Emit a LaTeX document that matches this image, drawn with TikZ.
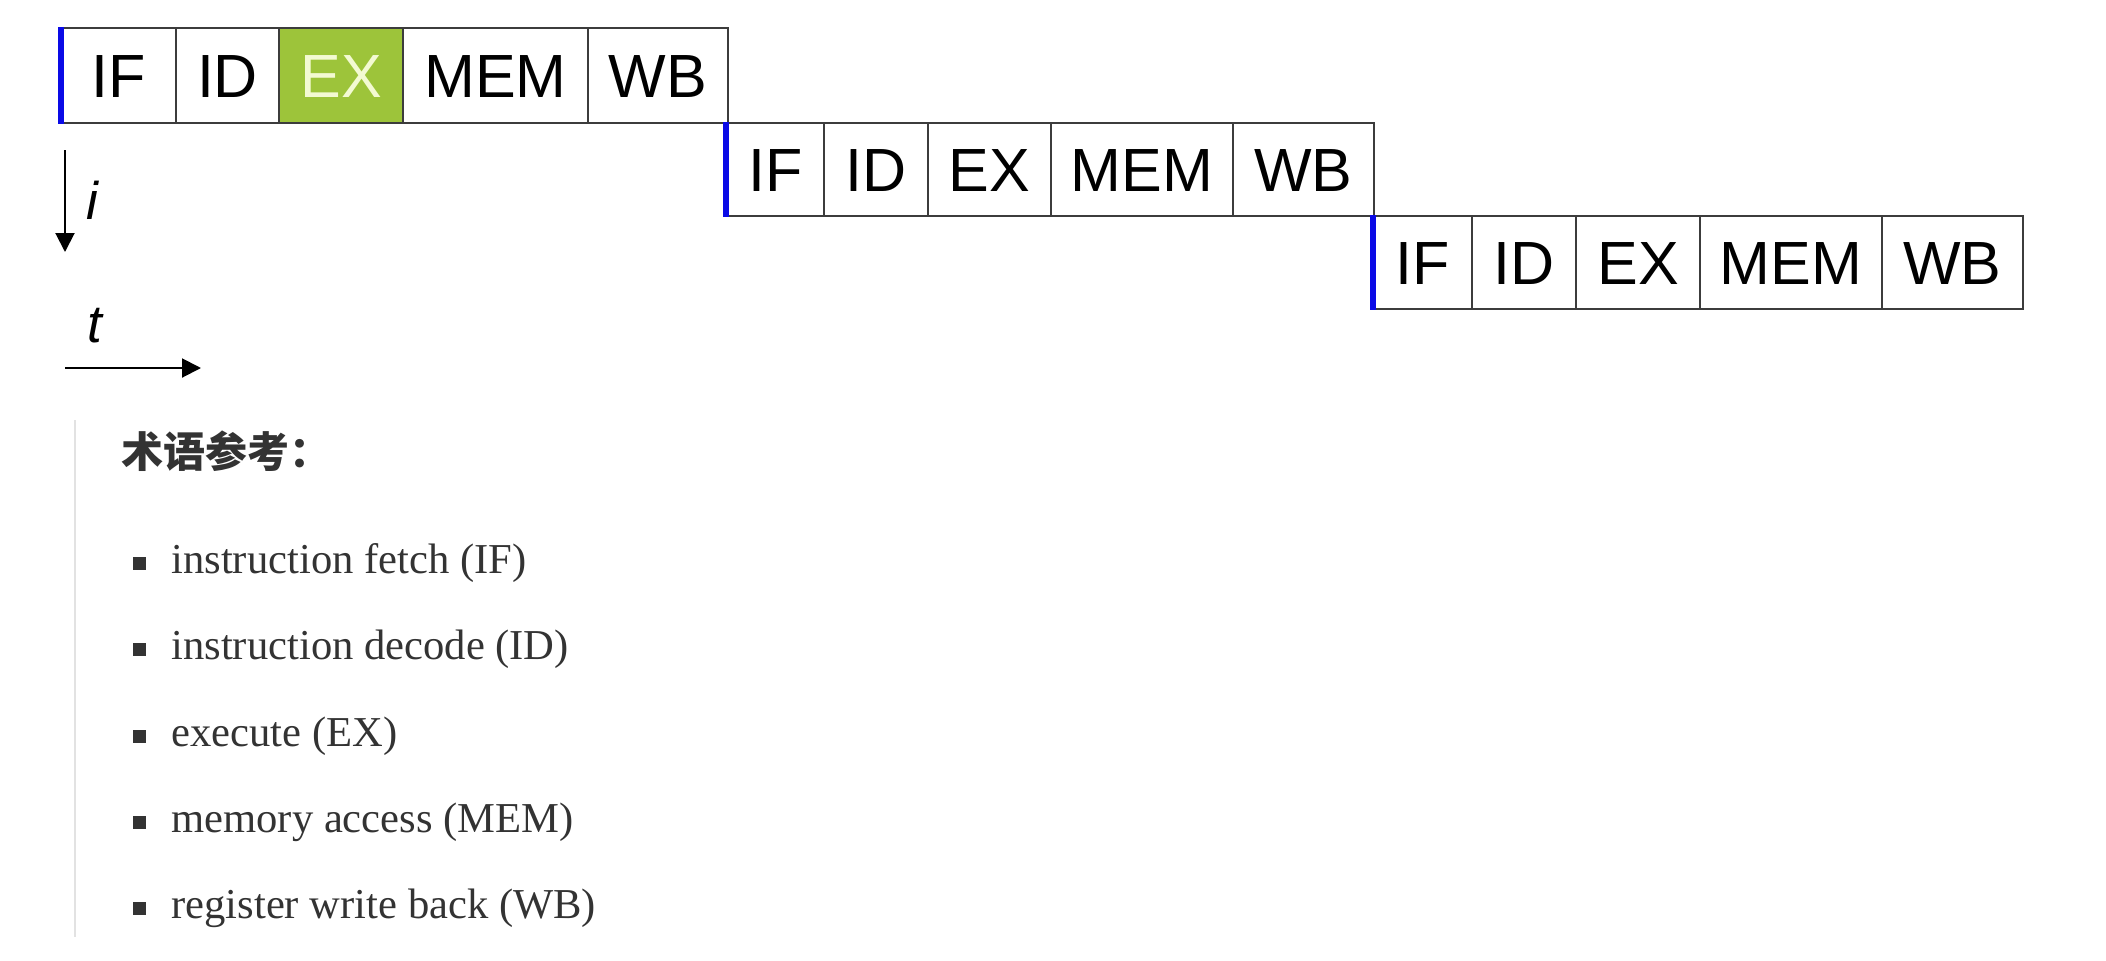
\documentclass[tikz,border=0pt]{standalone}
\usepackage{fontspec}
\setmainfont{Liberation Serif}
\newfontfamily\labfont{Liberation Sans}
\newfontfamily\cjkfont{Noto Sans CJK SC}
\usetikzlibrary{arrows.meta}
\definecolor{linegray}{HTML}{3C3C3C}
\definecolor{exgreen}{RGB}{157,196,58}
\definecolor{extext}{HTML}{F3FAD2}
\definecolor{edgeblue}{RGB}{10,10,230}
\definecolor{txt}{HTML}{333333}
\definecolor{rulegray}{HTML}{E2E2E2}
\begin{document}
\begin{tikzpicture}[x=0.5pt,y=-0.5pt,
  cell/.style={draw=linegray, line width=1pt, rectangle, inner sep=0pt,
    font=\labfont\fontsize{30.5pt}{36pt}\selectfont, text height=21.8pt, text depth=0pt},
  rowa/.style={minimum height=47.5pt},
  rowb/.style={minimum height=46.5pt},
  hot/.style={fill=exgreen, text=extext},
  blueedge/.style={draw=edgeblue, line width=3pt},
  axis/.style={line width=1pt, -{Triangle[width=9.5pt,length=9.5pt]}},
  axlab/.style={anchor=base west, inner sep=0pt, font=\labfont\itshape\fontsize{26.5pt}{30pt}\selectfont},
  item/.style={anchor=base west, inner sep=0pt, text=txt, font=\fontsize{21.3pt}{25pt}\selectfont},
  bul/.style={fill=txt, minimum size=6.5pt, inner sep=0pt},
]
\fill[white] (0,0) rectangle (2106,960);
\useasboundingbox (0,0) rectangle (2106,960);

% row 1
\node[cell,rowa,minimum width=57pt]   (a1) at (119,75.5)   {IF};
\node[cell,rowa,minimum width=51.5pt] (a2) at (227.5,75.5) {ID};
\node[cell,rowa,hot,minimum width=62pt] (a3) at (341,75.5) {EX};
\node[cell,rowa,minimum width=92.5pt] (a4) at (495.5,75.5) {MEM};
\node[cell,rowa,minimum width=70pt]   (a5) at (658,75.5)   {WB};
% row 2
\node[cell,rowb,minimum width=48.5pt] (b1) at (775.5,169.5)  {IF};
\node[cell,rowb,minimum width=52pt]   (b2) at (876,169.5)    {ID};
\node[cell,rowb,minimum width=61.5pt] (b3) at (989.5,169.5)  {EX};
\node[cell,rowb,minimum width=91pt]   (b4) at (1142,169.5)   {MEM};
\node[cell,rowb,minimum width=70.5pt] (b5) at (1303.5,169.5) {WB};
% row 3
\node[cell,rowb,minimum width=49pt]   (c1) at (1423,262.5)   {IF};
\node[cell,rowb,minimum width=52pt]   (c2) at (1524,262.5)   {ID};
\node[cell,rowb,minimum width=62pt]   (c3) at (1638,262.5)   {EX};
\node[cell,rowb,minimum width=91pt]   (c4) at (1791,262.5)   {MEM};
\node[cell,rowb,minimum width=70.5pt] (c5) at (1952.5,262.5) {WB};

\draw[blueedge] (a1.north west) -- (a1.south west);
\draw[blueedge] (b1.north west) -- (b1.south west);
\draw[blueedge] (c1.north west) -- (c1.south west);

% axes
\coordinate (ia) at (65,150);
\coordinate (ib) at (65,252);
\draw[axis] (ia) -- (ib);
\node[axlab] (ilab) at (86,219) {i};
\coordinate (ta) at (65,368);
\coordinate (tb) at (201,368);
\draw[axis] (ta) -- (tb);
\node[axlab] (tlab) at (87,342) {t};

% glossary
\coordinate (rt) at (75,420);
\coordinate (rb) at (75,937);
\draw[draw=rulegray, line width=1.2pt] (rt) -- (rb);
\node[anchor=base west, inner sep=0pt, text=txt,
      font=\cjkfont\bfseries\fontsize{21pt}{25pt}\selectfont] (head) at (121,467) {术语参考：};

\node[bul] (d1) at (139.5,563) {};
\node[item] (l1) at (171,573) {instruction fetch (IF)};
\node[bul] (d2) at (139.5,649.5) {};
\node[item] (l2) at (171,659.5) {instruction decode (ID)};
\node[bul] (d3) at (139.5,736) {};
\node[item] (l3) at (171,746) {execute (EX)};
\node[bul] (d4) at (139.5,822) {};
\node[item] (l4) at (171,832) {memory access (MEM)};
\node[bul] (d5) at (139.5,908) {};
\node[item] (l5) at (171,918) {register write back (WB)};
\end{tikzpicture}
\end{document}
